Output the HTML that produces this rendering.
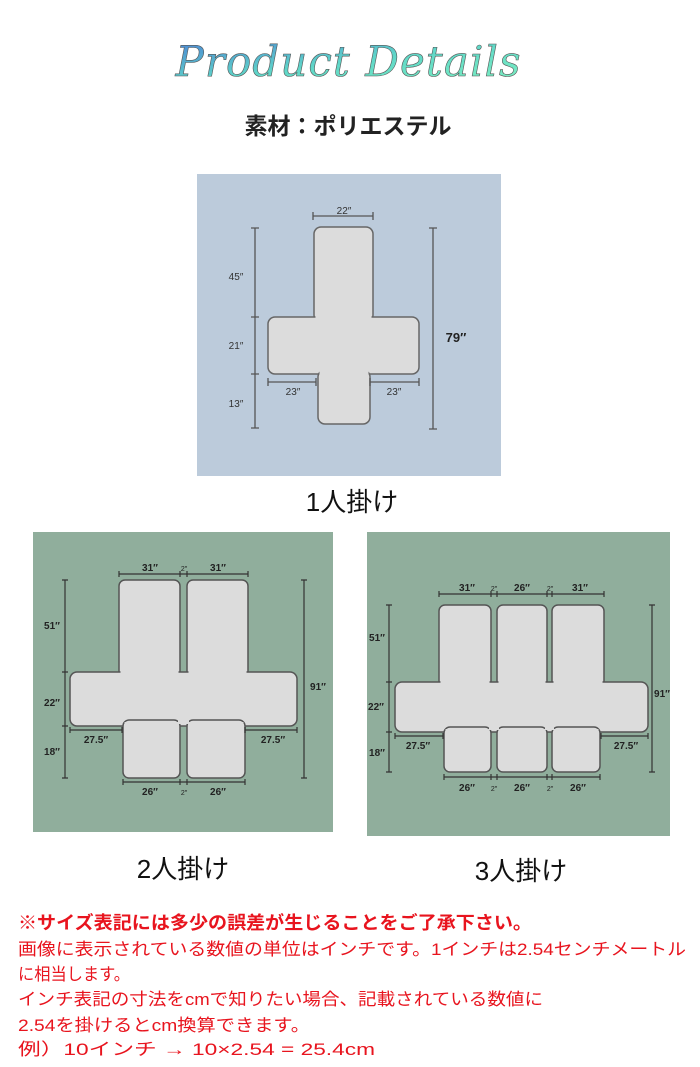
<!DOCTYPE html>
<html><head><meta charset="utf-8"><style>
body{margin:0;background:#fff;width:700px;height:1067px;overflow:hidden}
svg{display:block}
.j{font-family:"Liberation Sans","Noto Sans CJK JP",sans-serif}
</style></head><body>
<svg width="700" height="1067" viewBox="0 0 700 1067" xmlns="http://www.w3.org/2000/svg">
<defs>
<linearGradient id="g" x1="0" y1="0" x2="1" y2="1">
<stop offset="0" stop-color="#4a7fd6"/><stop offset="0.5" stop-color="#5fd6c8"/><stop offset="1" stop-color="#7ef0c0"/>
</linearGradient>
</defs>
<text x="348" y="76" text-anchor="middle" font-family="DejaVu Serif,serif" font-style="italic" font-size="42" fill="url(#g)" stroke="#555" stroke-width="0.6" textLength="345">Product Details</text>
<text x="348" y="134" text-anchor="middle" class="j" font-size="23" font-weight="bold" fill="#222">素材：ポリエステル</text>

<!-- Panel 1 -->
<rect x="197" y="174" width="304" height="302" fill="#bccbdb"/>
<g fill="#dcdcdc" stroke="#666" stroke-width="1.5">
<rect x="314" y="227" width="59" height="95" rx="7"/>
<rect x="268" y="317" width="151" height="57" rx="7"/>
<rect x="318" y="370" width="52" height="54" rx="7"/>
</g>
<g fill="#dcdcdc"><rect x="315.5" y="312" width="56" height="12"/><rect x="319.5" y="368" width="49" height="10"/></g>
<g stroke="#555" stroke-width="1.3" fill="none">
<path d="M313 216H373M313 212V220M373 212V220"/>
<path d="M255 228V428M251 228H259M251 317H259M251 374H259M251 428H259"/>
<path d="M433 228V429M429 228H437M429 429H437"/>
<path d="M268 382H316M268 378V386M316 378V386M370 382H419M370 378V386M419 378V386"/>
</g>
<g class="j" font-size="10" fill="#333" text-anchor="middle">
<text x="344" y="214">22″</text><text x="236" y="280">45″</text><text x="236" y="349">21″</text><text x="236" y="407">13″</text>
<text x="293" y="395">23″</text><text x="394" y="395">23″</text>
</g>
<text x="456" y="342" text-anchor="middle" class="j" font-size="13" font-weight="bold" fill="#222">79″</text>
<text x="352" y="511" text-anchor="middle" class="j" font-size="26" fill="#111">1人掛け</text>

<!-- Panel 2 -->
<rect x="33" y="532" width="300" height="300" fill="#90ae9c"/>
<g fill="#dcdcdc" stroke="#555" stroke-width="1.5">
<rect x="119" y="580" width="61" height="98" rx="6"/>
<rect x="187" y="580" width="61" height="98" rx="6"/>
<rect x="70" y="672" width="227" height="54" rx="7"/>
<rect x="123" y="720" width="57" height="58" rx="6"/>
<rect x="187" y="720" width="58" height="58" rx="6"/>
</g>
<g fill="#dcdcdc"><rect x="120.5" y="668" width="58" height="8"/><rect x="188.5" y="668" width="58" height="8"/><rect x="124.5" y="722" width="54" height="8"/><rect x="188.5" y="722" width="55" height="8"/><rect x="178" y="674" width="11" height="50"/></g>
<g stroke="#333" stroke-width="1.2" fill="none">
<path d="M119 574H248M119 571V577M180 571V577M187 571V577M248 571V577"/>
<path d="M65 580V778M62 580H68M62 672H68M62 726H68M62 778H68"/>
<path d="M304 580V778M301 580H307M301 778H307"/>
<path d="M70 730H122M70 727V733M122 727V733M245 730H297M245 727V733M297 727V733"/>
<path d="M123 782H245M123 779V785M180 779V785M187 779V785M245 779V785"/>
</g>
<g class="j" font-size="10" fill="#222" text-anchor="middle" font-weight="bold">
<text x="150" y="571">31″</text><text x="218" y="571">31″</text><text x="52" y="629">51″</text><text x="52" y="706">22″</text><text x="52" y="755">18″</text>
<text x="318" y="690">91″</text><text x="96" y="743">27.5″</text><text x="273" y="743">27.5″</text><text x="150" y="795">26″</text><text x="218" y="795">26″</text>
</g>
<g class="j" font-size="7" fill="#222" text-anchor="middle"><text x="184" y="571">2″</text><text x="184" y="795">2″</text></g>
<text x="183" y="878" text-anchor="middle" class="j" font-size="26" fill="#111">2人掛け</text>

<!-- Panel 3 -->
<rect x="367" y="532" width="303" height="304" fill="#90ae9c"/>
<g fill="#dcdcdc" stroke="#555" stroke-width="1.5">
<rect x="439" y="605" width="52" height="82" rx="6"/>
<rect x="497" y="605" width="50" height="82" rx="6"/>
<rect x="552" y="605" width="52" height="82" rx="6"/>
<rect x="395" y="682" width="253" height="50" rx="7"/>
<rect x="444" y="727" width="47" height="45" rx="6"/>
<rect x="497" y="727" width="50" height="45" rx="6"/>
<rect x="552" y="727" width="48" height="45" rx="6"/>
</g>
<g fill="#dcdcdc"><rect x="440.5" y="678" width="49" height="8"/><rect x="498.5" y="678" width="47" height="8"/><rect x="553.5" y="678" width="49" height="8"/>
<rect x="445.5" y="729" width="44" height="7"/><rect x="498.5" y="729" width="47" height="7"/><rect x="553.5" y="729" width="45" height="7"/>
<rect x="489" y="684" width="10" height="46"/><rect x="545" y="684" width="9" height="46"/></g>
<g stroke="#333" stroke-width="1.2" fill="none">
<path d="M439 594H604M439 591V597M491 591V597M497 591V597M547 591V597M552 591V597M604 591V597"/>
<path d="M389 605V772M386 605H392M386 682H392M386 732H392M386 772H392"/>
<path d="M652 605V772M649 605H655M649 772H655"/>
<path d="M395 736H443M395 733V739M443 733V739M601 736H648M601 733V739M648 733V739"/>
<path d="M444 777H600M444 774V780M491 774V780M497 774V780M547 774V780M552 774V780M600 774V780"/>
</g>
<g class="j" font-size="10" fill="#222" text-anchor="middle" font-weight="bold">
<text x="467" y="591">31″</text><text x="522" y="591">26″</text><text x="580" y="591">31″</text>
<text x="377" y="641">51″</text><text x="376" y="710">22″</text><text x="377" y="756">18″</text><text x="662" y="697">91″</text>
<text x="418" y="749">27.5″</text><text x="626" y="749">27.5″</text>
<text x="467" y="791">26″</text><text x="522" y="791">26″</text><text x="578" y="791">26″</text>
</g>
<g class="j" font-size="7" fill="#222" text-anchor="middle"><text x="494" y="591">2″</text><text x="550" y="591">2″</text><text x="494" y="791">2″</text><text x="550" y="791">2″</text></g>
<text x="521" y="880" text-anchor="middle" class="j" font-size="26" fill="#111">3人掛け</text>

<!-- notes -->
<g class="j" fill="#e8141e">
<text x="18" y="929" font-size="18" font-weight="bold" textLength="514" lengthAdjust="spacingAndGlyphs">※サイズ表記には多少の誤差が生じることをご了承下さい。</text>
<text x="18" y="955" font-size="17" textLength="668" lengthAdjust="spacingAndGlyphs">画像に表示されている数値の単位はインチです。1インチは2.54センチメートル</text>
<text x="18" y="980" font-size="17" textLength="112" lengthAdjust="spacingAndGlyphs">に相当します。</text>
<text x="18" y="1005" font-size="17" textLength="525" lengthAdjust="spacingAndGlyphs">インチ表記の寸法をcmで知りたい場合、記載されている数値に</text>
<text x="18" y="1031" font-size="17" textLength="292" lengthAdjust="spacingAndGlyphs">2.54を掛けるとcm換算できます。</text>
<text x="18" y="1055" font-size="17" textLength="357" lengthAdjust="spacingAndGlyphs">例）10インチ → 10×2.54 = 25.4cm</text>
</g>
</svg>
</body></html>
